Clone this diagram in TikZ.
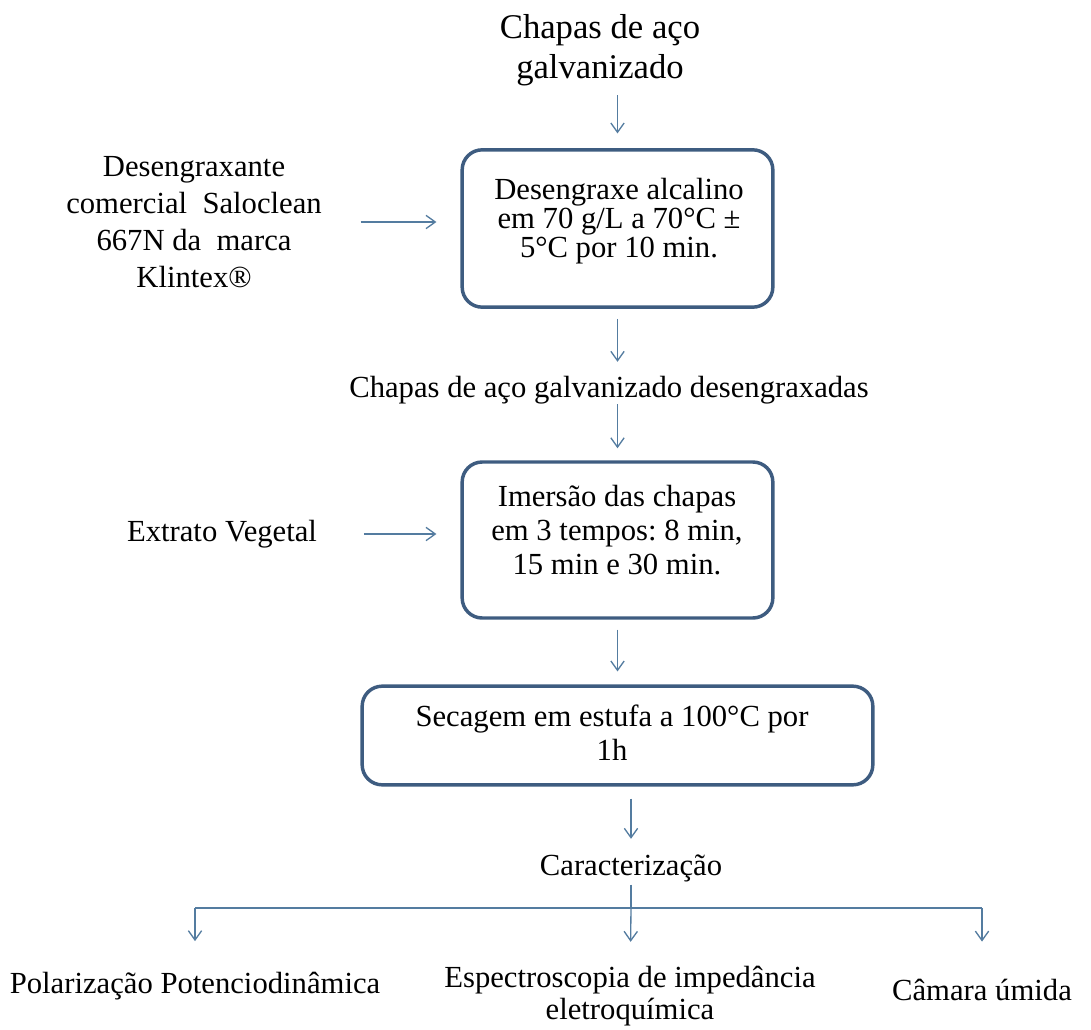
\documentclass[tikz,border=0pt]{standalone}
\usepackage{fontspec}
\setmainfont{Liberation Serif}
\usetikzlibrary{positioning,arrows.meta}

\definecolor{arrowblue}{RGB}{84,124,160}
\definecolor{boxblue}{RGB}{62,92,128}

\begin{document}
\begin{tikzpicture}[x=0.75pt,y=-0.75pt,font=\fontsize{23}{25.5}\selectfont,
  txt/.style={align=center,inner sep=0pt},
  stepbox/.style={draw=boxblue,line width=2.6pt,rounded corners=15pt,inner sep=0pt},
  flow/.style={draw=arrowblue,line width=1pt,-{Straight Barb[length=7pt,width=10pt]}},
  branch/.style={draw=arrowblue,line width=1pt}]

\useasboundingbox (0,0) rectangle (1091,1030);

%====================================================
% Inputs
%====================================================
\node[txt,font=\fontsize{26}{30}\selectfont] (chapas) at (600,50)
{Chapas de aço\\galvanizado};

\node[txt,font=\fontsize{23}{27.75}\selectfont] (deseng) at (194,222)
{Desengraxante\\comercial\ \ Saloclean\\667N da\ \ marca\\Klintex®};

\node[txt] (extrato) at (222,534) {Extrato Vegetal};

%====================================================
% Process boxes
%====================================================
\node[stepbox,minimum width=233pt,minimum height=118pt] (desbox) at (617.5,228.5) {};
\node[txt,font=\fontsize{23}{22}\selectfont] (destxt) at (619,221)
{Desengraxe alcalino\\em 70 g/L a 70°C ±\\5°C por 10 min.};

\node[txt] (limpas) at (609,390) {Chapas de aço galvanizado desengraxadas};

\node[stepbox,minimum width=233pt,minimum height=117pt] (imbox) at (617.5,540) {};
\node[txt] (imtxt) at (617,530)
{Imersão das chapas\\em 3 tempos:\ 8 min,\\15 min e 30 min.};

\node[stepbox,minimum width=383pt,minimum height=74pt] (secbox) at (617.5,735.5) {};
\node[txt] (sectxt) at (612,733)
{Secagem em estufa a 100°C por\\1h};

%====================================================
% Characterisation
%====================================================
\node[txt] (caract) at (631,868) {Caracterização};
\coordinate (fork) at (631,908);

\node[txt] (polar) at (195,986) {Polarização Potenciodinâmica};
\node[txt,font=\fontsize{23}{24}\selectfont] (eis) at (630,996)
{Espectroscopia de impedância\\eletroquímica};
\node[txt] (camara) at (982,990) {Câmara úmida};

%Arrows
\draw[flow,shorten <=7pt,shorten >=11pt] (chapas.south -| desbox) -- (desbox);
\draw[flow,shorten <=29pt,shorten >=18pt] (deseng) -- (deseng -| desbox.west);
\draw[flow,shorten <=7.5pt,shorten >=10.5pt] (desbox) -- (desbox |- limpas.north);
\draw[flow,shorten >=9pt] (limpas.south -| imbox) -- (imbox);
\draw[flow,shorten <=35pt,shorten >=18pt] (extrato) -- (extrato -| imbox.west);
\draw[flow,shorten <=7.5pt,shorten >=9.75pt] (imbox) -- (secbox);
\draw[flow,shorten <=9pt,shorten >=11.5pt] (secbox.south -| caract) -- (caract);

% branch to the three tests
\draw[branch,shorten <=2pt] (caract) -- (fork);
\draw[branch] (fork -| polar) -- (fork -| camara);
\draw[flow,shorten >=23pt] (fork -| polar) -- (polar);
\draw[flow,shorten >=18pt] (fork) -- (eis);
\draw[flow,shorten >=28pt] (fork -| camara) -- (camara);

\end{tikzpicture}
\end{document}
